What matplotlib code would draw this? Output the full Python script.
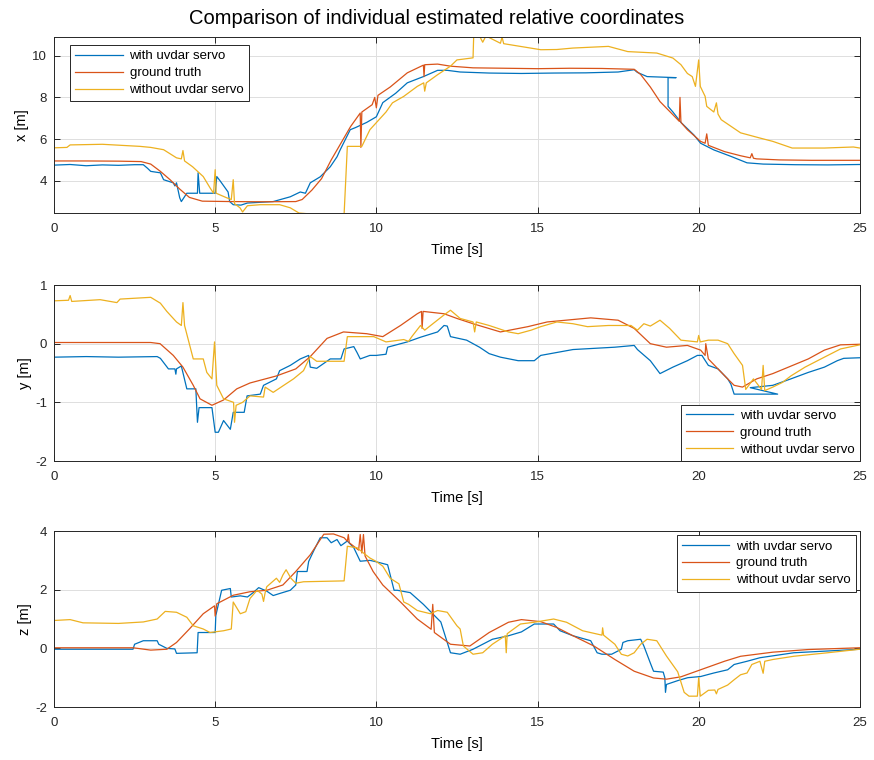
import numpy as np
import matplotlib.pyplot as plt

# (time [s], value [m]) samples
x_with = [(0, 4.75), (0.5, 4.78), (1.0, 4.72), (1.5, 4.76), (2.0, 4.74), (2.5, 4.77), (2.77, 4.77),
          (2.9, 4.6), (3.0, 4.45), (3.3, 4.38), (3.4, 4.05), (3.7, 3.9), (3.75, 3.75), (3.8, 3.9),
          (3.9, 3.18), (3.95, 3.0), (4.12, 3.4), (4.45, 3.4), (4.47, 4.38), (4.52, 3.4), (5.0, 3.4),
          (5.05, 4.2), (5.15, 4.0), (5.4, 3.46), (5.45, 3.0), (5.56, 2.85), (5.8, 2.83), (6.0, 2.93),
          (6.8, 3.0), (7.33, 3.23), (7.64, 3.46), (7.8, 3.4), (7.95, 3.9), (8.26, 4.19), (8.57, 4.67),
          (8.78, 5.15), (8.88, 5.49), (9.19, 6.45), (9.35, 6.55), (9.7, 6.8), (10.0, 7.07), (10.2, 7.75),
          (10.6, 8.2), (10.96, 8.7), (11.46, 9.0), (11.9, 9.3), (12.2, 9.3), (12.6, 9.22), (13.5, 9.17),
          (14.5, 9.15), (15.5, 9.17), (16.5, 9.18), (17.5, 9.22), (18.0, 9.33), (18.1, 9.2), (18.4, 9.0),
          (19.3, 8.95), (19.05, 8.95), (19.05, 7.57), (19.2, 7.3), (19.45, 6.8), (19.85, 6.2), (20.06, 5.8),
          (20.47, 5.48), (21.0, 5.17), (21.5, 4.86), (22.0, 4.8), (23.0, 4.77), (24.0, 4.76), (25.0, 4.78)]
x_truth = [(0, 4.95), (1, 4.95), (2, 4.94), (2.7, 4.92), (3.0, 4.8), (3.3, 4.45), (3.6, 4.05), (3.9, 3.6),
           (4.2, 3.2), (4.6, 3.02), (5.5, 3.0), (6.5, 2.99), (7.5, 3.0), (7.7, 3.1), (8.0, 3.55), (8.3, 4.1),
           (8.6, 5.0), (8.9, 5.8), (9.2, 6.6), (9.5, 7.25), (9.52, 5.6), (9.55, 7.3), (9.87, 7.65),
           (9.95, 8.0), (10.0, 7.5), (10.05, 8.1), (10.43, 8.5), (10.96, 9.18), (11.46, 9.55), (11.48, 9.0),
           (11.5, 9.57), (11.9, 9.6), (12.3, 9.5), (13, 9.42), (14, 9.4), (15, 9.38), (16, 9.4), (17, 9.39),
           (18.0, 9.35), (18.2, 9.1), (18.5, 8.5), (18.8, 7.8), (19.2, 7.17), (19.4, 6.85), (19.42, 8.0),
           (19.45, 6.8), (19.65, 6.45), (20.06, 5.89), (20.2, 5.8), (20.25, 6.25), (20.3, 5.7), (20.8, 5.4),
           (21.3, 5.2), (21.6, 5.1), (21.65, 5.3), (21.7, 5.08), (21.8, 5.05), (22.5, 5.0), (23.5, 4.98),
           (25, 4.98)]
x_without = [(0, 5.58), (0.4, 5.6), (0.5, 5.72), (1.5, 5.75), (2.67, 5.65), (3.0, 5.6), (3.4, 5.49),
             (3.8, 5.1), (3.95, 5.05), (4.0, 5.45), (4.05, 4.95), (4.3, 4.67), (4.63, 4.2), (4.84, 3.66),
             (4.95, 3.4), (5.0, 4.53), (5.03, 3.4), (5.36, 3.18), (5.5, 3.1), (5.56, 4.05), (5.6, 2.9),
             (5.77, 2.7), (5.85, 2.5), (6.0, 2.8), (6.4, 2.85), (7.0, 2.85), (7.33, 2.7), (7.6, 2.45),
             (8.0, 2.4), (9.0, 2.4), (9.1, 5.65), (9.55, 5.65), (9.8, 6.45), (10.3, 7.3), (10.5, 7.74),
             (10.85, 8.05), (11.27, 8.53), (11.47, 8.7), (11.5, 8.3), (11.55, 8.7), (11.9, 9.09), (12.3, 9.5),
             (12.5, 9.8), (13.0, 9.9), (13.02, 10.95), (13.2, 10.95), (13.3, 10.65), (13.4, 10.95),
             (13.85, 10.6), (13.9, 10.9), (13.95, 10.58), (15.1, 10.29), (15.6, 10.3), (16.1, 10.37),
             (17.2, 10.45), (17.8, 10.2), (18.7, 10.13), (19.2, 9.89), (19.45, 9.57), (19.65, 9.15),
             (19.8, 9.0), (19.9, 8.53), (20.0, 9.8), (20.05, 8.53), (20.2, 8.05), (20.25, 7.57), (20.47, 7.3),
             (20.55, 7.74), (20.6, 7.2), (20.7, 6.93), (21.3, 6.3), (21.9, 6.05), (22.3, 5.89), (22.9, 5.57),
             (23.9, 5.57), (24.8, 5.62), (25, 5.57)]

y_with = [(0, -0.23), (1, -0.22), (2, -0.23), (3.2, -0.22), (3.3, -0.25), (3.55, -0.43), (3.75, -0.43),
          (3.78, -0.52), (3.8, -0.43), (3.95, -0.38), (4.12, -0.77), (4.4, -0.77), (4.45, -1.34),
          (4.5, -1.09), (4.9, -1.09), (5.0, -1.51), (5.1, -1.51), (5.26, -1.31), (5.47, -1.46),
          (5.56, -1.17), (5.9, -1.17), (5.99, -0.89), (6.4, -0.86), (6.5, -0.71), (6.9, -0.6), (7.0, -0.46),
          (7.33, -0.37), (7.64, -0.26), (7.9, -0.2), (7.95, -0.4), (8.15, -0.42), (8.57, -0.26),
          (8.9, -0.26), (9.0, -0.09), (9.3, -0.05), (9.4, -0.15), (9.5, -0.26), (9.8, -0.2), (10.0, -0.2),
          (10.3, -0.18), (10.35, -0.06), (10.96, 0.03), (11.37, 0.11), (11.9, 0.2), (12.1, 0.31),
          (12.2, 0.3), (12.3, 0.12), (12.8, 0.06), (13.2, -0.06), (13.5, -0.17), (13.85, -0.23),
          (14.4, -0.29), (14.9, -0.29), (15.1, -0.2), (16.1, -0.1), (17.4, -0.06), (18.0, -0.03),
          (18.1, -0.1), (18.5, -0.29), (18.8, -0.51), (19.2, -0.4), (19.65, -0.29), (19.96, -0.2),
          (20.1, -0.2), (20.3, -0.37), (20.6, -0.43), (20.9, -0.6), (21.0, -0.69), (21.1, -0.86),
          (22.45, -0.86), (21.6, -0.75), (22.3, -0.71), (22.86, -0.6), (23.4, -0.49), (23.9, -0.4),
          (24.3, -0.29), (24.5, -0.25), (25, -0.24)]
y_truth = [(0, 0.02), (3.0, 0.02), (3.29, 0.0), (3.7, -0.2), (4.0, -0.4), (4.32, -0.71), (4.53, -0.94),
           (4.9, -1.05), (5.26, -0.96), (5.67, -0.77), (6.08, -0.67), (6.9, -0.55), (7.5, -0.43),
           (7.95, -0.22), (8.47, 0.09), (8.98, 0.2), (9.7, 0.17), (10.2, 0.12), (10.75, 0.31),
           (11.27, 0.51), (11.4, 0.55), (11.42, 0.26), (11.45, 0.55), (12.1, 0.51), (12.5, 0.43),
           (13.0, 0.34), (13.85, 0.2), (14.7, 0.29), (15.3, 0.37), (16.65, 0.44), (17.5, 0.4), (18.0, 0.26),
           (18.5, 0.0), (19.0, -0.06), (19.65, -0.03), (20.06, -0.11), (20.2, -0.2), (20.22, 0.0),
           (20.3, -0.26), (20.6, -0.43), (20.9, -0.6), (21.1, -0.71), (21.36, -0.74), (21.8, -0.6),
           (22.3, -0.51), (23.4, -0.26), (23.9, -0.11), (24.4, -0.02), (25, -0.01)]
y_without = [(0, 0.73), (0.45, 0.74), (0.5, 0.82), (0.55, 0.72), (1.43, 0.75), (1.95, 0.7), (2.05, 0.76),
             (3.0, 0.79), (3.3, 0.69), (3.5, 0.55), (3.8, 0.37), (3.95, 0.31), (4.0, 0.7), (4.05, 0.31),
             (4.32, -0.26), (4.63, -0.26), (4.74, -0.49), (4.9, -0.6), (4.98, 0.03), (5.05, -0.71),
             (5.26, -0.94), (5.57, -1.0), (5.6, -1.34), (5.65, -1.05), (5.85, -1.0), (6.08, -0.89),
             (6.5, -0.91), (6.55, -0.74), (6.8, -0.83), (7.1, -0.72), (7.43, -0.6), (7.74, -0.46),
             (7.95, -0.22), (8.15, -0.3), (9.0, -0.3), (9.1, 0.12), (9.92, 0.12), (10.3, 0.03), (10.85, 0.07),
             (11.0, 0.04), (11.1, 0.12), (11.37, 0.31), (11.5, 0.23), (12.1, 0.49), (12.3, 0.57),
             (12.6, 0.43), (13.0, 0.37), (13.05, 0.2), (13.1, 0.37), (13.5, 0.31), (14.1, 0.2), (14.4, 0.17),
             (14.8, 0.23), (15.1, 0.29), (15.6, 0.37), (16.1, 0.34), (16.55, 0.29), (17.2, 0.31),
             (17.9, 0.31), (18.1, 0.23), (18.3, 0.34), (18.5, 0.3), (18.8, 0.4), (19.1, 0.26), (19.45, 0.06),
             (19.96, 0.03), (20.0, 0.14), (20.05, 0.03), (20.3, 0.06), (20.6, 0.06), (20.9, 0.0),
             (21.1, -0.17), (21.36, -0.37), (21.46, -0.78), (21.7, -0.6), (21.95, -0.78), (22.0, -0.37),
             (22.05, -0.8), (22.3, -0.74), (22.6, -0.66), (22.86, -0.55), (23.3, -0.4), (23.9, -0.23),
             (24.4, -0.09), (25, -0.02)]

z_with = [(0, -0.03), (2.45, -0.03), (2.5, 0.14), (2.77, 0.26), (3.2, 0.26), (3.25, 0.14), (3.5, 0.0),
          (3.75, -0.02), (3.8, -0.17), (4.44, -0.15), (4.47, 0.54), (5.0, 0.54), (5.02, 1.12), (5.2, 1.98),
          (5.47, 2.04), (5.5, 1.75), (5.78, 1.79), (6.0, 1.75), (6.18, 1.9), (6.35, 2.07), (6.6, 1.95),
          (6.8, 1.8), (7.0, 1.87), (7.33, 1.98), (7.5, 2.16), (7.55, 2.62), (7.85, 2.62), (7.9, 2.96),
          (8.05, 3.31), (8.26, 3.77), (8.47, 3.77), (8.6, 3.6), (8.78, 3.71), (8.9, 3.5), (9.1, 3.66),
          (9.3, 3.43), (9.5, 2.97), (9.8, 3.0), (10.0, 2.95), (10.35, 2.85), (10.55, 1.98), (10.65, 1.98),
          (11.05, 1.9), (11.46, 1.5), (11.8, 1.12), (12.0, 0.9), (12.3, -0.15), (12.6, -0.2), (13.0, -0.03),
          (13.3, 0.14), (13.6, 0.31), (14.1, 0.43), (14.5, 0.56), (14.9, 0.83), (15.5, 0.83), (15.7, 0.6),
          (16.1, 0.43), (16.65, 0.26), (16.85, -0.15), (17.0, -0.2), (17.3, -0.2), (17.6, -0.03),
          (17.65, 0.2), (17.8, 0.26), (18.2, 0.31), (18.3, 0.08), (18.5, -0.5), (18.6, -0.78), (18.9, -0.81),
          (18.95, -1.0), (18.97, -1.5), (19.0, -1.23), (19.35, -1.1), (19.66, -1.0), (20.06, -0.96),
          (20.47, -0.84), (20.9, -0.73), (21.1, -0.55), (21.5, -0.44), (21.9, -0.32), (22.95, -0.15),
          (24.0, -0.09), (25, -0.03)]
z_truth = [(0, 0.02), (2.45, 0.02), (3.0, -0.06), (3.5, -0.03), (3.8, 0.2), (4.2, 0.66), (4.63, 1.18),
           (4.98, 1.45), (5.0, 1.1), (5.05, 1.52), (5.56, 1.81), (6.08, 1.93), (6.6, 1.98), (7.1, 2.16),
           (7.5, 2.62), (7.95, 3.19), (8.37, 3.89), (8.67, 3.9), (9.0, 3.77), (9.1, 3.65), (9.13, 3.88),
           (9.16, 3.6), (9.45, 3.35), (9.5, 3.88), (9.55, 3.25), (9.6, 3.88), (9.65, 3.15), (9.9, 2.62),
           (10.2, 2.16), (10.75, 1.58), (11.27, 1.0), (11.7, 0.65), (11.75, 1.5), (11.8, 0.54),
           (12.3, 0.14), (12.9, 0.08), (13.5, 0.54), (14.1, 0.89), (14.5, 0.98), (15.1, 0.91),
           (15.6, 0.71), (16.1, 0.43), (16.75, 0.08), (17.4, -0.38), (18.0, -0.78), (18.6, -1.01),
           (19.0, -1.05), (19.45, -0.97), (20.06, -0.73), (20.8, -0.44), (21.3, -0.27), (22.3, -0.13),
           (23.4, -0.04), (25, 0.02)]
z_without = [(0, 0.95), (0.5, 0.98), (0.9, 0.87), (2.0, 0.85), (2.77, 0.9), (3.2, 1.0), (3.45, 1.26),
             (3.8, 1.23), (4.12, 1.06), (4.32, 0.77), (4.63, 0.66), (4.84, 0.54), (5.26, 0.6), (5.5, 0.66),
             (5.56, 1.58), (5.78, 1.18), (5.95, 1.25), (6.08, 1.7), (6.3, 1.98), (6.45, 1.85), (6.5, 1.6),
             (6.55, 1.9), (6.6, 2.1), (6.9, 2.39), (7.0, 2.25), (7.1, 2.5), (7.2, 2.68), (7.35, 2.39),
             (7.5, 2.22), (7.74, 2.27), (9.0, 2.3), (9.1, 3.48), (9.4, 3.43), (9.6, 3.25), (9.8, 3.08),
             (10.0, 2.96), (10.2, 2.8), (10.43, 2.39), (10.7, 2.2), (10.85, 1.58), (11.0, 1.5), (11.27, 1.29),
             (11.68, 1.18), (11.9, 1.29), (12.2, 1.23), (12.5, 0.77), (12.6, 0.66), (12.7, 0.08),
             (13.0, -0.2), (13.3, -0.15), (13.6, 0.14), (14.0, 0.43), (14.03, -0.15), (14.06, 0.5),
             (14.47, 0.83), (14.9, 0.89), (15.5, 1.0), (15.9, 0.89), (16.4, 0.6), (17.0, 0.45), (17.02, 0.7),
             (17.05, 0.45), (17.4, 0.14), (17.6, -0.2), (17.8, -0.26), (18.0, -0.15), (18.2, 0.14),
             (18.4, 0.31), (18.7, 0.26), (19.0, -0.26), (19.35, -0.8), (19.55, -1.5), (19.7, -1.63),
             (19.96, -1.63), (20.0, -1.0), (20.05, -1.63), (20.3, -1.43), (20.5, -1.42), (20.55, -1.55),
             (20.6, -1.4), (20.9, -1.25), (21.1, -1.07), (21.3, -0.9), (21.5, -0.84), (21.65, -0.55),
             (21.9, -0.44), (22.0, -0.85), (22.05, -0.44), (22.3, -0.38), (22.95, -0.27), (24.0, -0.15),
             (25, -0.03)]

labels = ['with uvdar servo', 'ground truth', 'without uvdar servo']
colors = ['#0072BD', '#D95319', '#EDB120']

panels = [
    ('x [m]', [x_with, x_truth, x_without], (2.45, 10.9), [4, 6, 8, 10], 'upper left', (0.02, 0.955)),
    ('y [m]', [y_with, y_truth, y_without], (-2, 1), [-2, -1, 0, 1], 'lower right', (1.0, 0.0)),
    ('z [m]', [z_with, z_truth, z_without], (-2, 4), [-2, 0, 2, 4], 'upper right', (0.995, 0.977)),
]

plt.rcParams['font.family'] = ['Liberation Sans', 'DejaVu Sans']
plt.rcParams['font.size'] = 9.5
plt.rcParams['axes.unicode_minus'] = False

fig = plt.figure(figsize=(8.74, 7.6), dpi=100)
fig.suptitle('Comparison of individual estimated relative coordinates', fontsize=14.5, y=0.988)

bottoms = [0.7197, 0.3934, 0.0697]
for (ylab, series, ylim, yticks, loc, anchor), b in zip(panels, bottoms):
    ax = fig.add_axes([0.0618, b, 0.922, 0.2316])
    for s, c, lab in zip(series, colors, labels):
        arr = np.array(s)
        ax.plot(arr[:, 0], arr[:, 1], color=c, lw=0.9, label=lab)
    ax.set_xlim(0, 25)
    ax.set_ylim(*ylim)
    ax.set_xticks([0, 5, 10, 15, 20, 25])
    ax.set_yticks(yticks)
    ax.grid(True, color='#dfdfdf', lw=0.7)
    ax.set_axisbelow(True)
    ax.tick_params(direction='in', top=True, right=True, length=4, width=0.7,
                   colors='#262626', labelsize=9.5)
    ax.tick_params(axis='x', pad=7)
    ax.tick_params(axis='y', pad=5)
    for sp in ax.spines.values():
        sp.set_color('#262626')
        sp.set_linewidth(0.7)
    ax.set_xlabel('Time [s]', fontsize=10.5, labelpad=6)
    ax.set_ylabel(ylab, fontsize=10.5, labelpad=2)
    leg = ax.legend(loc=loc, bbox_to_anchor=anchor, borderaxespad=0, fancybox=False,
                    framealpha=1, edgecolor='#262626', handlelength=3.6, labelspacing=0.35,
                    fontsize=9.5, borderpad=0.4, handletextpad=0.5)
    leg.get_frame().set_linewidth(0.7)

fig.savefig('out.png', dpi=100)
